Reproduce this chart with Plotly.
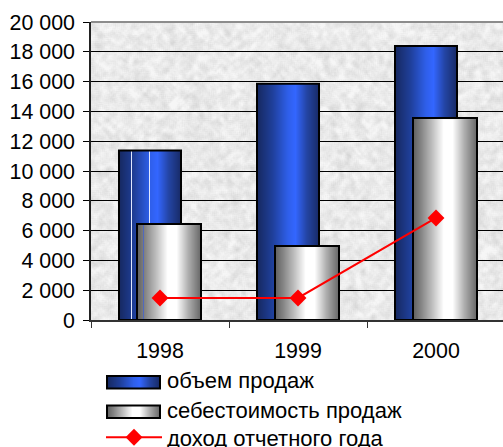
import base64, struct, zlib
import numpy as np
import plotly.graph_objects as go

years = ["1998", "1999", "2000"]
sales = [11380, 15850, 18390]
cost = [6440, 4970, 13560]
income = [1480, 1480, 6850]
y_ticks = [0, 2000, 4000, 6000, 8000, 10000, 12000, 14000, 16000, 18000, 20000]
y_labels = ["0", "2 000", "4 000", "6 000", "8 000", "10 000", "12 000", "14 000", "16 000", "18 000", "20 000"]
names = ["объем продаж", "себестоимость продаж", "доход отчетного года"]

W, H = 503, 447
L, R, T, B = 91, 503, 22, 320
PW, PH = R - L, B - T
CAT = 138.0
FONT = "Liberation Sans"
FS = 21.4
LEG_FS = 22

BLUE_STOPS = [(0, (22, 40, 95)), (.25, (31, 63, 154)), (.5, (47, 95, 234)), (.62, (51, 102, 255)),
              (.8, (36, 69, 165)), (1, (23, 42, 102))]
GRAY_STOPS = [(0, (95, 95, 95)), (.12, (130, 130, 130)), (.3, (190, 190, 190)), (.48, (255, 255, 255)),
              (.62, (255, 255, 255)), (.8, (175, 175, 175)), (1, (102, 102, 102))]


def ramp(stops, t):
    xs = [s[0] for s in stops]
    return [float(np.interp(t, xs, [s[1][k] for s in stops])) for k in range(3)]


def css(c):
    return "rgb(%d,%d,%d)" % tuple(round(v) for v in c)


def png_uri(arr):
    h, w, _ = arr.shape
    raw = b"".join(b"\x00" + arr[i].tobytes() for i in range(h))
    def chunk(tag, data):
        return struct.pack(">I", len(data)) + tag + data + struct.pack(">I", zlib.crc32(tag + data))
    png = b"\x89PNG\r\n\x1a\n" + chunk(b"IHDR", struct.pack(">IIBBBBB", w, h, 8, 2, 0, 0, 0)) + \
        chunk(b"IDAT", zlib.compress(raw)) + chunk(b"IEND", b"")
    return "data:image/png;base64," + base64.b64encode(png).decode()


def blur(a, r):
    for axis in (0, 1):
        a = sum(np.roll(a, s, axis=axis) for s in range(-r, r + 1)) / (2 * r + 1)
    return a


def granite(w, h):
    yy, xx = np.mgrid[0:h, 0:w]
    v = np.sin(xx * 12.9898 + yy * 78.233) * 43758.5453
    v = v - np.floor(v)
    fine = blur(v, 1) - .5
    coarse = blur(v, 3) - .5
    g = 234 + fine * 30 + coarse * 90
    g = np.clip(g, 205, 246).astype(np.uint8)
    return np.stack([g, g, g], axis=2)


def swatch(stops, w=53):
    row = np.array([ramp(stops, (i + .5) / w) for i in range(w)], dtype=np.uint8)
    return np.stack([row] * 4, axis=0)


def px(x):
    return (x - L) / PW


def py(y):
    return (B - y) / PH


def strips(values, offset, width, stops, accents):
    n = int(round(width * CAT))
    xs, ys, off, wid, col = [], [], [], [], []
    for c, (cat, val) in enumerate(zip(years, values)):
        for i in range(n):
            xs.append(cat)
            ys.append(val)
            off.append(offset + i / CAT)
            wid.append(1.0 / CAT)
            col.append(accents.get((c, i), css(ramp(stops, (i + .5) / n))))
    return go.Bar(x=xs, y=ys, offset=off, width=wid, marker=dict(color=col, line=dict(width=0)),
                  showlegend=False, hoverinfo="skip")


fig = go.Figure()
OFF_A, WID_A = -41 / CAT, 62 / CAT
OFF_B, WID_B = -23 / CAT, 64 / CAT

for vals, name, leg, off, wid, stops, accents in [
    (sales, names[0], "legend", OFF_A, WID_A, BLUE_STOPS, {(0, 12): "rgb(225,232,255)", (0, 30): "rgb(225,232,255)"}),
    (cost, names[1], "legend2", OFF_B, WID_B, GRAY_STOPS, {(0, 6): "rgb(80,105,190)"}),
]:
    fig.add_trace(go.Bar(x=years, y=vals, name=name, legend=leg, offset=off, width=wid,
                         marker=dict(color="rgba(0,0,0,0)", line=dict(width=0))))
    fig.add_trace(strips(vals, off, wid, stops, accents))
    fig.add_trace(go.Bar(x=years, y=vals, offset=off, width=wid, showlegend=False, hoverinfo="skip",
                         marker=dict(color="rgba(0,0,0,0)", line=dict(color="black", width=2))))

fig.add_trace(go.Scatter(x=years, y=income, name=names[2], legend="legend3", mode="lines+markers",
                         line=dict(color="#ff0000", width=2),
                         marker=dict(symbol="diamond", size=13, color="#ff0000", line=dict(width=0))))

images = [
    dict(source=png_uri(granite(PW, PH)), xref="paper", yref="paper", x=0, y=1, sizex=1, sizey=1,
         xanchor="left", yanchor="top", sizing="stretch", layer="below"),
    dict(source=png_uri(swatch(BLUE_STOPS)), xref="paper", yref="paper", x=px(107), y=py(376), sizex=53 / PW,
         sizey=12.5 / PH, xanchor="left", yanchor="top", sizing="stretch", layer="above"),
    dict(source=png_uri(swatch(GRAY_STOPS)), xref="paper", yref="paper", x=px(107), y=py(405.5), sizex=53 / PW,
         sizey=12.5 / PH, xanchor="left", yanchor="top", sizing="stretch", layer="above"),
]
shapes = [
    dict(type="rect", xref="paper", yref="paper", x0=px(107), x1=px(160), y0=py(376), y1=py(388.5),
         line=dict(color="black", width=2)),
    dict(type="rect", xref="paper", yref="paper", x0=px(107), x1=px(160), y0=py(405.5), y1=py(418),
         line=dict(color="black", width=2)),
    dict(type="line", xref="paper", yref="paper", x0=0, x1=1, y0=1, y1=1, layer="above",
         line=dict(color="#8c8c8c", width=2)),
]


def legend_at(top):
    return dict(x=px(101), y=py(top), xanchor="left", yanchor="top", orientation="v", itemwidth=56,
                bgcolor="rgba(0,0,0,0)", borderwidth=0, font=dict(family=FONT, size=LEG_FS, color="black"),
                itemclick=False, itemdoubleclick=False)


fig.update_layout(
    width=W, height=H, barmode="overlay",
    margin=dict(l=L, r=W - R, t=T, b=H - B, pad=0, autoexpand=False),
    paper_bgcolor="white", plot_bgcolor="#e8e8e8",
    font=dict(family=FONT, size=FS, color="black"),
    images=images, shapes=shapes,
    legend=legend_at(359), legend2=legend_at(389), legend3=legend_at(416.5),
    xaxis=dict(type="category", categoryorder="array", categoryarray=years, range=[-.5, (R - L) / CAT - .5],
               tickson="boundaries", ticks="outside", ticklen=6, tickwidth=1, tickcolor="#333",
               showline=True, linecolor="#333", linewidth=1.5, showgrid=False, zeroline=False,
               ticklabelstandoff=11, tickfont=dict(family=FONT, size=FS, color="black"), fixedrange=True),
    yaxis=dict(range=[0, 20000], tickmode="array", tickvals=y_ticks, ticktext=y_labels, ticks="outside",
               ticklen=6, tickwidth=1, tickcolor="black", showline=True, linecolor="#222", linewidth=1.5,
               showgrid=True, gridcolor="black", gridwidth=1, zeroline=False, ticklabelstandoff=4,
               tickfont=dict(family=FONT, size=FS, color="black"), fixedrange=True),
)

fig.write_html("out.html", config=dict(displayModeBar=False),
               post_script="document.body.style.margin='0';")
